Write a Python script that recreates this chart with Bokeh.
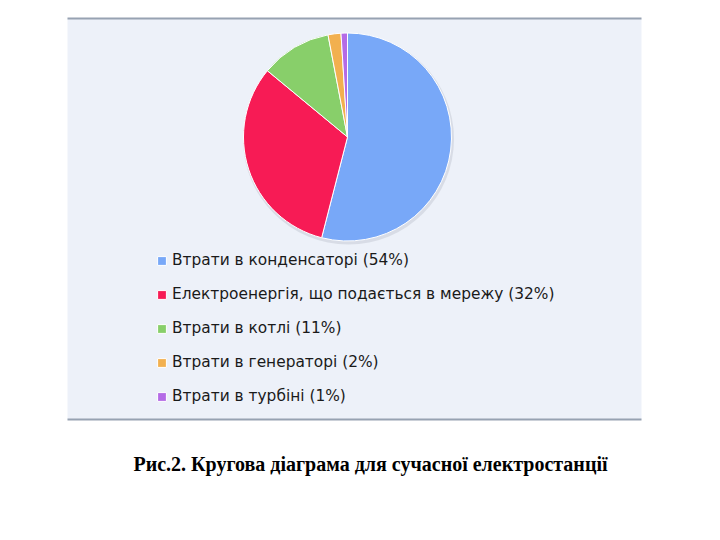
import numpy as np
from bokeh.plotting import figure
from bokeh.models import Range1d, Legend, LegendItem
from bokeh.core.properties import value
from bokeh.embed import file_html
from bokeh.resources import INLINE

# ---- data ----
labels = [
    "Втрати в конденсаторі (54%)",
    "Електроенергія, що подається в мережу (32%)",
    "Втрати в котлі (11%)",
    "Втрати в генераторі (2%)",
    "Втрати в турбіні (1%)",
]
shares = [54, 32, 11, 2, 1]
colors = ["#78A8F8", "#F71B55", "#88CF6A", "#F2B04F", "#B46BE6"]
caption = "Рис.2. Кругова діаграма для сучасної електростанції"

W, H = 704, 524
p = figure(width=W, height=H, output_backend="svg", toolbar_location=None,
           x_range=Range1d(0, W), y_range=Range1d(540 - H, 540),
           min_border=0, x_axis_type=None, y_axis_type=None)
p.grid.visible = False
p.outline_line_color = None
p.background_fill_color = "white"
p.border_fill_color = "white"

def Y(py):
    return 540 - py

# panel
p.quad(left=67, right=641, top=Y(18), bottom=Y(419), fill_color="#EDF1F9", line_color=None)
p.segment(x0=[67, 67], x1=[641, 641], y0=[Y(18), Y(419)], y1=[Y(18), Y(419)],
          line_color="#97A2B2", line_width=2)

# pie
cx, cy, r = 347, Y(136.5), 104
vals = np.array(shares, dtype=float)
frac = vals / vals.sum()
cum = np.concatenate([[0], np.cumsum(frac)])
start = np.pi / 2 - cum[:-1] * 2 * np.pi
end = np.pi / 2 - cum[1:] * 2 * np.pi

# soft shadow
p.circle(x=[cx + 1], y=[cy - 2], radius=r + 1.5, fill_color="#C9CFD9", fill_alpha=0.6, line_color=None)

renderers = []
for i in range(len(labels)):
    rr = p.wedge(x=cx, y=cy, radius=r, start_angle=start[i], end_angle=end[i],
                 direction="clock", fill_color=colors[i], line_color="white", line_width=1)
    renderers.append(rr)

legend = Legend(items=[LegendItem(label=labels[i], renderers=[renderers[i]]) for i in range(len(labels))],
                location=(156, 118), orientation="vertical",
                label_text_font="DejaVu Sans", label_text_font_size="15.4px",
                label_text_color="#1A1A1A", glyph_width=11, glyph_height=11,
                label_height=20, spacing=14, label_standoff=5, padding=0, margin=0,
                border_line_color=None, background_fill_alpha=0)
p.add_layout(legend, "center")

p.text(x=[370], y=[Y(463)], text=[caption], text_font=value("Liberation Serif"),
       text_font_style="bold", text_font_size="20px", text_align="center",
       text_baseline="middle", text_color="#000000")

open("out.html", "w").write(file_html(p, INLINE))
